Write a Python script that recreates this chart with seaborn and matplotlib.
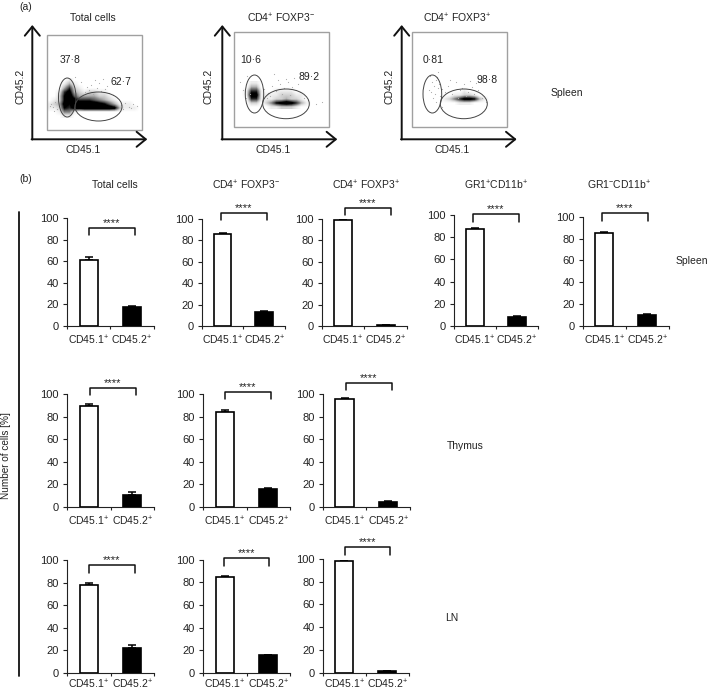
import matplotlib
matplotlib.use('Agg')
import matplotlib.pyplot as plt
from matplotlib.patches import Ellipse, Rectangle
import numpy as np
import pandas as pd
import seaborn as sns

W, H = 709, 692

# bar data (% of cells)
groups = ['CD45.1$^{+}$', 'CD45.2$^{+}$']
spleen_vals = [[61, 18], [86, 13.5], [99, 1], [87.5, 8.5], [85, 10.5]]
spleen_errs = [[3, 0.5], [0.7, 0.6], [0.3, 0.2], [0.7, 0.5], [0.7, 0.8]]
thymus_vals = [[89, 11], [84.5, 15.5], [96, 4.5]]
thymus_errs = [[2.5, 2.5], [1.6, 1.6], [0.7, 0.8]]
ln_vals = [[77.5, 22.5], [84.5, 15.5], [98, 1.5]]
ln_errs = [[2.5, 2.5], [0.8, 0.7], [0.3, 0.4]]

# panel frames in px: left, right, y of 100, y of 0, bracket left, right, top, stars y
spleen_frames = [(67, 153.5, 218, 326, 89, 135, 227.5, 222),
                 (201.7, 285, 218.7, 326, 221, 267, 212.7, 207),
                 (321.7, 407, 219, 326, 345, 391, 207.7, 202),
                 (454, 538, 215, 326, 473, 519, 214, 208),
                 (582.7, 669, 216.7, 326, 602, 648, 213, 207)]
thymus_frames = [(67, 154, 394, 507, 89.5, 135.5, 387.7, 382),
                 (203, 290, 394, 507, 225, 271, 391.7, 386),
                 (322.7, 410, 394, 507, 345.7, 391.5, 382.7, 377)]
ln_frames = [(67, 154, 560, 673, 89, 135, 565, 559),
             (203, 290, 559.7, 673, 223.5, 269, 558, 552),
             (322.7, 409, 559, 672.7, 345, 390, 547, 541)]

# flow plots: coarse darkness grids (0-9), 5 px wide, 4 px tall cells
total_density = [
    [0, 0, 0, 0, 1, 0, 0, 0, 0, 0, 0, 0, 0, 0, 0, 0, 0, 0, 0],
    [0, 0, 0, 1, 3, 1, 0, 0, 0, 0, 0, 0, 0, 0, 0, 0, 0, 0, 0],
    [0, 0, 0, 3, 6, 2, 1, 0, 0, 0, 0, 0, 0, 0, 0, 0, 0, 0, 0],
    [0, 0, 1, 6, 8, 3, 2, 1, 2, 2, 1, 1, 0, 0, 0, 0, 0, 0, 0],
    [0, 0, 2, 7, 9, 5, 3, 3, 3, 3, 2, 2, 1, 0, 0, 0, 0, 0, 0],
    [0, 1, 2, 7, 9, 8, 6, 6, 6, 5, 4, 3, 2, 1, 0, 0, 0, 0, 0],
    [1, 2, 3, 8, 7, 9, 9, 9, 9, 9, 8, 7, 5, 3, 1, 1, 1, 0, 0],
    [1, 1, 2, 7, 6, 8, 8, 9, 9, 9, 9, 9, 9, 8, 3, 1, 1, 1, 0],
    [0, 0, 1, 4, 4, 1, 0, 0, 0, 0, 0, 0, 0, 0, 0, 0, 0, 0, 0],
    [0, 0, 0, 1, 1, 0, 0, 0, 0, 0, 0, 0, 0, 0, 0, 0, 0, 0, 0],
]
neg_density = [
    [0, 0, 0, 1, 1, 0, 0, 0, 0, 0, 0, 0, 0, 0, 0, 0, 0, 0, 0],
    [0, 0, 0, 3, 3, 0, 0, 0, 0, 0, 0, 0, 0, 0, 0, 0, 0, 0, 0],
    [0, 0, 1, 6, 6, 1, 0, 0, 1, 1, 1, 1, 0, 0, 0, 0, 0, 0, 0],
    [0, 0, 1, 8, 8, 1, 1, 1, 1, 2, 2, 2, 1, 1, 0, 0, 0, 0, 0],
    [0, 0, 0, 6, 6, 1, 1, 1, 2, 2, 3, 2, 2, 1, 0, 0, 0, 0, 0],
    [0, 0, 0, 2, 2, 0, 2, 4, 7, 8, 9, 8, 6, 3, 1, 0, 0, 0, 0],
    [0, 0, 0, 0, 0, 0, 0, 1, 1, 2, 2, 2, 1, 0, 0, 0, 0, 0, 0],
]
pos_density = [
    [0, 0, 0, 0, 0, 0, 0, 0, 0, 0, 0, 0, 0, 0, 0, 0, 0, 0, 0],
    [0, 0, 0, 0, 0, 0, 0, 0, 0, 0, 0, 0, 0, 0, 0, 0, 0, 0, 0],
    [0, 0, 0, 0, 0, 0, 0, 0, 0, 0, 1, 0, 0, 0, 0, 0, 0, 0, 0],
    [0, 0, 0, 0, 0, 0, 0, 0, 1, 1, 2, 2, 1, 0, 0, 0, 0, 0, 0],
    [0, 0, 0, 0, 0, 0, 1, 2, 4, 6, 8, 8, 7, 3, 1, 0, 0, 0, 0],
    [0, 0, 0, 0, 0, 0, 0, 0, 0, 1, 1, 1, 0, 0, 0, 0, 0, 0, 0],
]

# stray events, px from the top left of each gate box
total_dots_x = [4, 6, 8, 10, 12, 3, 7, 38, 42, 46, 50, 54, 58, 62, 66, 44, 52, 60, 74, 78, 82, 86, 76, 84, 90, 28, 34, 40, 48, 56]
total_dots_y = [69, 72, 67, 74, 70, 71, 76, 57, 55, 59, 53, 56, 54, 58, 60, 50, 48, 51, 70, 68, 72, 69, 74, 73, 71, 42, 47, 52, 45, 44]
neg_dots_x = [6, 9, 12, 16, 13, 30, 34, 38, 42, 46, 50, 54, 58, 62, 66, 36, 44, 48, 52, 56, 70, 74, 82, 88, 40, 60, 33, 64]
neg_dots_y = [50, 58, 66, 62, 44, 57, 61, 54, 59, 52, 56, 50, 55, 58, 60, 64, 48, 62, 47, 63, 66, 68, 72, 70, 42, 46, 66, 52]
pos_dots_x = [18, 20, 22, 24, 26, 19, 23, 27, 21, 25, 17, 28, 30, 33, 36, 40, 44, 48, 52, 56, 60, 64, 38, 46, 50, 54, 58, 62, 66, 70, 74, 26, 24, 30]
pos_dots_y = [44, 50, 54, 48, 56, 60, 62, 52, 66, 45, 58, 64, 57, 60, 54, 62, 50, 58, 52, 60, 55, 51, 48, 66, 56, 64, 49, 62, 58, 66, 70, 40, 70, 75]

sns.set_theme(style='white')
plt.rcParams['font.family'] = ['Liberation Sans', 'DejaVu Sans']
plt.rcParams['mathtext.fontset'] = 'custom'
plt.rcParams['mathtext.rm'] = 'Liberation Sans'
plt.rcParams['mathtext.default'] = 'regular'

ink = '#222222'
fig = plt.figure(figsize=(W / 100, H / 100), dpi=100)

# overlay in picture pixels for everything that is not a bar
ov = fig.add_axes([0, 0, 1, 1], zorder=5)
ov.patch.set_alpha(0)
ov.axis('off')


def label(x, y, s, size=7.5, ha='center', rot=0):
    ov.text(x, y, s, fontsize=size, ha=ha, va='center', rotation=rot, color=ink)


def flow_panel(box, density, top, dots_x, dots_y, ell_l, ell_r, arrow_x):
    x0, y0, x1, y1 = box
    grid = np.array(density)
    ov.imshow(grid, cmap='Greys', vmin=0, vmax=7, aspect='auto', interpolation='bilinear', zorder=1,
              extent=(x0, x0 + 5 * grid.shape[1], top + 4 * grid.shape[0], top))
    ov.scatter(np.array(dots_x) + x0, np.array(dots_y) + y0, s=0.7, color='#aaaaaa', linewidths=0, zorder=1.5)
    ov.add_patch(Rectangle((x0, y0), x1 - x0, y1 - y0, fill=False, ec='#a0a0a0', lw=1, zorder=2))
    for (l, r, t, b) in (ell_l, ell_r):
        ov.add_patch(Ellipse(((l + r) / 2, (t + b) / 2), r - l, b - t, fill=False, ec='#444444', lw=0.7, zorder=3))
    style = dict(arrowstyle='->,head_length=0.55,head_width=0.45', lw=1.4, color='#111111', shrinkA=0, shrinkB=0)
    ov.annotate('', xy=(arrow_x, 25), xytext=(arrow_x, 139.5), arrowprops=style)
    ov.annotate('', xy=(arrow_x + 115, 139.3), xytext=(arrow_x - 0.7, 139.3), arrowprops=style)


def bar_panel(frame, vals, errs, pad):
    xl, xr, y100, y0, bl, br, bt, sy = frame
    ax = fig.add_axes([xl / W, 1 - y0 / H, (xr - xl) / W, (y0 - y100) / H])
    df = pd.DataFrame({'group': groups, 'value': vals})
    sns.barplot(data=df, x='group', y='value', hue='group', palette=['white', 'black'], legend=False,
                width=0.42, edgecolor='black', linewidth=1.2, ax=ax, zorder=3)
    ax.errorbar([0, 1], vals, yerr=[[0, 0], errs], fmt='none', ecolor='black', elinewidth=1.1,
                capsize=2.9, capthick=1.1, zorder=2)
    ax.set_xlim(-0.5, 1.5)
    ax.set_ylim(0, 100)
    ax.patch.set_alpha(0)
    ax.set_xlabel('')
    ax.set_ylabel('')
    ax.set_yticks(range(0, 101, 20))
    ax.set_xticks([0, 1])
    ax.set_xticks([-0.5, 0.5, 1.5], minor=True)
    ax.tick_params(axis='x', which='major', length=0, pad=pad, labelsize=7.5, labelcolor=ink)
    ax.tick_params(axis='x', which='minor', length=2.5, width=0.8, color=ink, bottom=True)
    ax.tick_params(axis='y', length=3.2, width=0.8, color=ink, left=True, pad=2.5, labelsize=8, labelcolor=ink)
    sns.despine(ax=ax)
    ax.spines['left'].set_color(ink)
    ax.spines['bottom'].set_color(ink)
    ax.spines['left'].set_linewidth(0.8)
    ax.spines['bottom'].set_linewidth(0.8)
    # significance bracket
    ov.plot([bl, bl, br, br], [bt + 7.5, bt, bt, bt + 7.5], color='#111111', lw=1.1, solid_joinstyle='round')
    label((bl + br) / 2, sy + 1, '****', size=8)


# the bottom row sits close to the picture edge
for frames, vals, errs, pad in [(spleen_frames, spleen_vals, spleen_errs, 5.5),
                                (thymus_frames, thymus_vals, thymus_errs, 5.5),
                                (ln_frames, ln_vals, ln_errs, 3.5)]:
    for f, v, e in zip(frames, vals, errs):
        bar_panel(f, v, e, pad)

flow_panel((47, 35, 142, 130), total_density, 78, total_dots_x, total_dots_y,
           (58.5, 76, 78, 117), (75, 122, 92, 121), 32.3)
flow_panel((234.3, 32.3, 329, 126.7), neg_density, 81, neg_dots_x, neg_dots_y,
           (245.3, 263.7, 75, 113), (262.7, 309.3, 89, 118.7), 222.3)
flow_panel((412.3, 32.3, 506.7, 126.7), pos_density, 81, pos_dots_x, pos_dots_y,
           (423, 441.7, 75, 113), (440.3, 487.3, 89, 118.7), 401.7)

neg_title = 'CD4$^{+}$ FOXP3$^{-}$'
pos_title = 'CD4$^{+}$ FOXP3$^{+}$'

# panel (a) text
label(26, 7, '(a)')
label(92.7, 18, 'Total cells')
label(281, 18, neg_title)
label(457, 18, pos_title)
for x in (20, 209, 389.3):
    label(x, 86, 'CD45.2', rot=90)
for x in (83, 273, 451.7):
    label(x, 150, 'CD45.1')
label(70, 60, '37·8')
label(121, 82, '62·7')
label(250.7, 60, '10·6')
label(309, 77, '89·2')
label(433, 60, '0·81')
label(487, 80, '98·8')
label(550.7, 92.7, 'Spleen', ha='left')

# panel (b) text
label(26, 179, '(b)')
label(115, 185, 'Total cells')
label(246, 185, neg_title)
label(365.7, 185, pos_title)
label(495.7, 185, 'GR1$^{+}$CD11b$^{+}$')
label(619, 185, 'GR1$^{-}$CD11b$^{+}$')
label(676, 260.7, 'Spleen', ha='left')
label(447, 446, 'Thymus', ha='left')
label(445, 617.7, 'LN', ha='left')
label(6, 456, 'Number of cells [%]', size=7.2, rot=90)
ov.plot([19, 19], [211.7, 676], color='#111111', lw=1.3)

ov.set_xlim(0, W)
ov.set_ylim(H, 0)

fig.savefig('out.png', dpi=100)
